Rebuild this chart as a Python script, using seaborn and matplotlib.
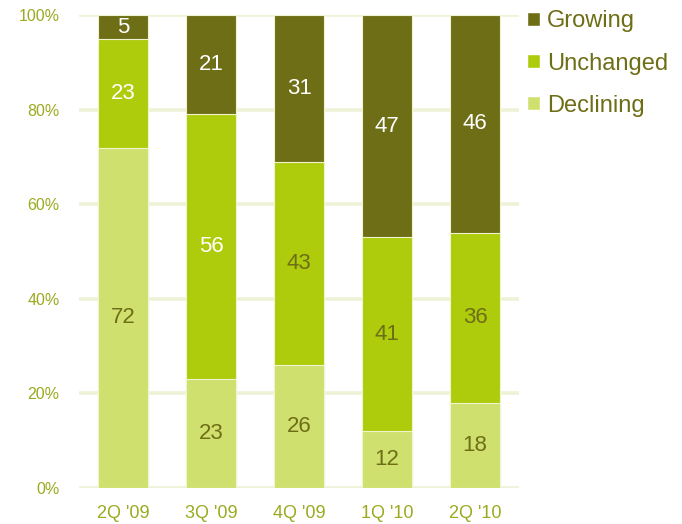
import matplotlib
matplotlib.use("Agg")
import matplotlib.pyplot as plt
import seaborn as sns
import pandas as pd
import numpy as np
from matplotlib.patches import Patch

quarters = ["2Q '09", "3Q '09", "4Q '09", "1Q '10", "2Q '10"]
declining = [72, 23, 26, 12, 18]
unchanged = [23, 56, 43, 41, 36]
growing = [5, 21, 31, 47, 46]

c_grow = "#6E6E16"
c_unch = "#AECC0C"
c_decl = "#D0E06E"
c_tick = "#9BAA1E"
c_text = "#6E6E16"
c_grid = "#EEF3D8"

sns.set_style("white")
plt.rcParams["font.family"] = ["Liberation Sans", "DejaVu Sans"]

df = pd.DataFrame({"quarter": quarters, "declining": declining,
                   "unchanged": unchanged, "growing": growing})
df["top_unch"] = df["declining"] + df["unchanged"]
df["top_grow"] = df["top_unch"] + df["growing"]

fig = plt.figure(figsize=(6.82, 5.24), dpi=100)
ax = fig.add_axes([0.116, 0.069, 0.645, 0.902])

for y in range(0, 101, 20):
    ax.axhline(y, color=c_grid, lw=2.6, zorder=0)

bw = 0.57
edge = "#EEF4D0"
sns.barplot(data=df, x="quarter", y="top_grow", color=c_grow, width=bw,
            saturation=1, edgecolor=edge, linewidth=0.8, ax=ax, zorder=2)
sns.barplot(data=df, x="quarter", y="top_unch", color=c_unch, width=bw,
            saturation=1, edgecolor=edge, linewidth=0.8, ax=ax, zorder=3)
sns.barplot(data=df, x="quarter", y="declining", color=c_decl, width=bw,
            saturation=1, edgecolor=edge, linewidth=0.8, ax=ax, zorder=4)

fs = 16
for i in range(len(quarters)):
    d, u, g = declining[i], unchanged[i], growing[i]
    ax.text(i, d / 2, str(d), ha="center", va="center", fontsize=fs,
            color=c_text, zorder=6)
    ucol = "white" if i < 2 else c_text
    ax.text(i, d + u / 2, str(u), ha="center", va="center", fontsize=fs,
            color=ucol, zorder=6)
    ax.text(i, d + u + g / 2, str(g), ha="center", va="center", fontsize=fs,
            color="white", zorder=6)

ax.set_xlim(-0.5, 4.5)
ax.set_ylim(0, 100)
ax.set_yticks(range(0, 101, 20))
ax.set_yticklabels([f"{v}%" for v in range(0, 101, 20)])
ax.set_xlabel("")
ax.set_ylabel("")
ax.tick_params(axis="y", length=0, pad=14, labelsize=11.5, labelcolor=c_tick)
ax.tick_params(axis="x", length=0, pad=12, labelsize=13, labelcolor=c_tick)
for s in ax.spines.values():
    s.set_visible(False)

handles = [Patch(facecolor=c_grow, label="Growing"),
           Patch(facecolor=c_unch, label="Unchanged"),
           Patch(facecolor=c_decl, label="Declining")]
leg = ax.legend(handles=handles, loc="upper left", bbox_to_anchor=(0.985, 1.04),
                frameon=False, fontsize=17, handlelength=0.55, handleheight=0.55,
                handletextpad=0.3, labelspacing=0.85, borderaxespad=0.2)
for t in leg.get_texts():
    t.set_color(c_text)

fig.savefig("out.png", dpi=100)
